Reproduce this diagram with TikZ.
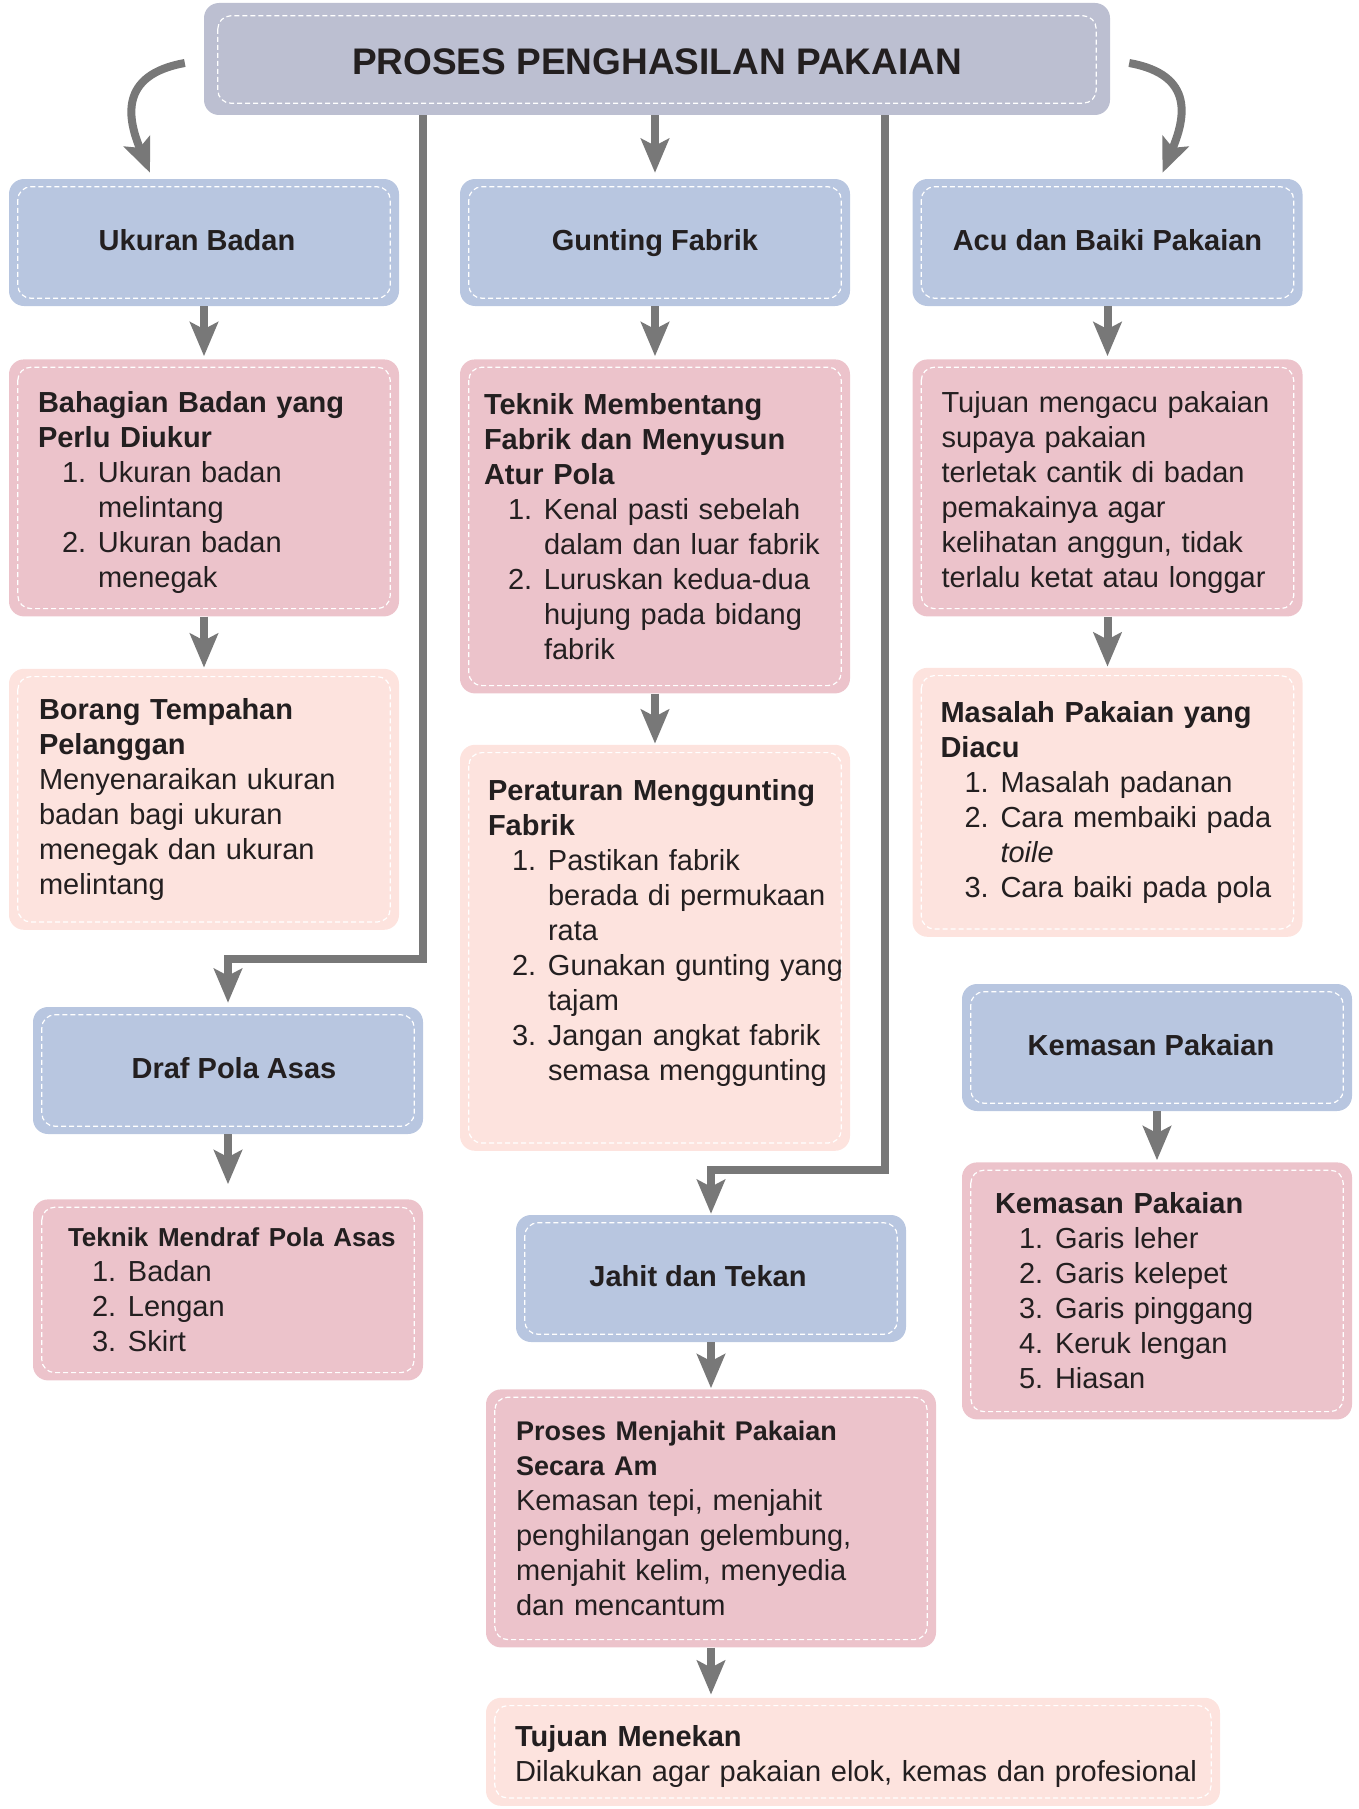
\documentclass[tikz,border=0pt]{standalone}
\usepackage{fontspec}
\setmainfont{Liberation Sans}
\usepackage{xcolor}
\usetikzlibrary{arrows.meta, positioning, calc}

\definecolor{titlefill}{RGB}{188,191,209}
\definecolor{bluefill}{RGB}{184,198,224}
\definecolor{pinkfill}{RGB}{236,195,203}
\definecolor{notefill}{RGB}{253,227,222}
\definecolor{arrowgray}{RGB}{120,120,120}
\definecolor{textcol}{RGB}{35,31,32}

\setlength{\parindent}{0pt}
\newcommand{\itm}[2]{\par\hangindent=60pt\hangafter=0\noindent\llap{\makebox[36pt][l]{#1}}#2}

\begin{document}
\begin{tikzpicture}[x=1pt, y=-1pt,
    node distance=53pt,
    box/.style={rectangle, rounded corners=15pt, minimum width=390pt, inner sep=0pt, text=textcol},
    head/.style={box, fill=bluefill, minimum height=127pt, text height=21pt, text depth=6pt, font=\fontsize{29}{35}\selectfont\bfseries},
    card/.style={box, fill=pinkfill, minimum height=257pt, inner xsep=4pt, text width=382pt, font=\fontsize{29}{35}\selectfont, execute at begin node={\raggedright\leftskip=#1\relax}},
    card/.default=25pt,
    note/.style={card=#1, fill=notefill},
    note/.default=25pt,
    flow/.style={draw=arrowgray, line width=8pt, -{Stealth[length=34pt, width=28pt, inset=7pt]}},
    dashline/.style={draw=white, line width=1.2pt, dash pattern=on 5pt off 3pt, rounded corners=13pt}
]

\useasboundingbox (0,0) rectangle (1359,1809);

\node[box, fill=titlefill, minimum width=906pt, minimum height=112pt, text height=32pt, text depth=0pt, font=\fontsize{37}{44}\selectfont\bfseries] (title) at (657,59) {PROSES PENGHASILAN PAKAIAN};

\node[head] (ukuran) at (204,242.5) {Ukuran Badan\hspace*{14pt}};
\node[head] (gunting) at (655,242.5) {Gunting Fabrik};
\node[head] (acu) at (1107.5,242.5) {Acu dan Baiki Pakaian};

\node[card, below=of ukuran] (bahagian) {{\bfseries\rule{0pt}{31pt}Bahagian Badan yang\newline Perlu Diukur}
  \itm{1.}{Ukuran badan\newline melintang}
  \itm{2.}{Ukuran badan\newline menegak}\par};
\node[card=20pt, below=of gunting, minimum height=334pt] (membentang) {{\bfseries Teknik Membentang\newline Fabrik dan Menyusun\newline Atur Pola}
  \itm{1.}{Kenal pasti sebelah\newline dalam dan luar fabrik}
  \itm{2.}{Luruskan kedua-dua\newline hujung pada bidang\newline fabrik}\par};
\node[card, below=of acu] (mengacu) {\rule{0pt}{31pt}Tujuan mengacu pakaian\newline supaya pakaian\newline terletak cantik di badan\newline pemakainya agar\newline kelihatan anggun, tidak\newline terlalu ketat atau longgar\par};

\node[note=26pt, below=52pt of bahagian, minimum height=261pt] (borang) {{\bfseries Borang Tempahan\newline Pelanggan}\par
  Menyenaraikan ukuran\newline badan bagi ukuran\newline menegak dan ukuran\newline melintang\par};
\node[note=24pt, below=51pt of membentang, minimum height=406pt] (peraturan) {{\bfseries Peraturan Menggunting\newline Fabrik}
  \itm{1.}{Pastikan fabrik\newline berada di permukaan\newline rata}
  \itm{2.}{Gunakan gunting yang\newline tajam}
  \itm{3.}{Jangan angkat fabrik\newline semasa menggunting\rule[-35pt]{0pt}{35pt}}\par};
\node[note=24pt, below=51pt of mengacu, minimum height=269pt] (masalah) {{\bfseries Masalah Pakaian yang\newline Diacu}
  \itm{1.}{Masalah padanan}
  \itm{2.}{Cara membaiki pada\newline \textit{toile}}
  \itm{3.}{Cara baiki pada pola}\par};

\node[head] (draf) at (228,1070.5) {\hspace*{12pt}Draf Pola Asas};
\node[card=31pt, below=65pt of draf, minimum height=181pt] (mendraf) {{\fontsize{26}{33}\selectfont\bfseries Teknik Mendraf Pola Asas}
  \itm{1.}{Badan}
  \itm{2.}{Lengan}
  \itm{3.}{Skirt}\par};

\node[head] (kemasan) at (1157,1047.5) {Kemasan Pakaian\hspace*{12pt}};
\node[card=29pt, below=51pt of kemasan] (garis) {{\bfseries Kemasan Pakaian}
  \itm{1.}{Garis leher}
  \itm{2.}{Garis kelepet}
  \itm{3.}{Garis pinggang}
  \itm{4.}{Keruk lengan}
  \itm{5.}{Hiasan}\par};

\node[head] (jahit) at (711,1278.5) {Jahit dan Tekan\hspace*{26pt}};
\node[card=26pt, below=47pt of jahit, minimum width=450pt, minimum height=258pt, text width=442pt] (menjahit) {{\fontsize{27}{35}\selectfont\bfseries Proses Menjahit Pakaian\newline Secara Am}\par
  Kemasan tepi, menjahit\newline penghilangan gelembung,\newline menjahit kelim, menyedia\newline dan mencantum\par};
\node[note, below=50pt of menjahit.south west, anchor=north west, minimum width=734pt, minimum height=108pt, text width=726pt] (menekan) {{\bfseries\rule{0pt}{31pt}Tujuan Menekan}\par
  Dilakukan agar pakaian elok, kemas dan profesional\par};

\draw[dashline] ($(title.north west)+(14,13)$) rectangle ($(title.south east)+(-14,-12)$);
\foreach \n in {ukuran,gunting,acu,bahagian,membentang,mengacu,borang,peraturan,masalah,draf,mendraf,kemasan,garis,jahit,menjahit,menekan}
  \draw[dashline] ($(\n.north west)+(9,8)$) rectangle ($(\n.south east)+(-9,-8)$);

\coordinate (turnA) at (228,959);
\coordinate (turnB) at (711,1170);

\draw[flow] ($(title.west)+(-19,4)$) .. controls +(-67,12) and +(-22,-53) .. ($(ukuran.north)+(-54,-6)$);
\draw[flow] ($(title.east)+(19,4)$) .. controls +(67,12) and +(22,-53) .. ($(acu.north)+(55,-6)$);
\draw[flow, shorten >=6pt] (title.south -| gunting) -- (gunting);
\draw[flow, shorten >=4pt] (title.south -| draf.east) |- (turnA) -- (draf);
\draw[flow, shorten >=1pt] ($(title.south east)+(-225,0)$) |- (turnB) -- (jahit);

\draw[flow, shorten >=3pt] (ukuran) -- (bahagian);
\draw[flow, shorten >=3pt] (gunting) -- (gunting |- membentang.north);
\draw[flow, shorten >=3pt] (acu) -- (acu |- mengacu.north);
\draw[flow, shorten >=1pt] (bahagian) -- (bahagian |- borang.north);
\draw[flow, shorten >=1pt] (membentang) -- (membentang |- peraturan.north);
\draw[flow, shorten >=1pt] (mengacu) -- (mengacu |- masalah.north);
\draw[flow, shorten >=15pt] (draf) -- (mendraf);
\draw[flow, shorten >=2pt] (kemasan) -- (garis);
\draw[flow, shorten >=1pt] (jahit) -- (jahit |- menjahit.north);
\draw[flow, shorten >=3pt] (menjahit) -- (menjahit |- menekan.north);

\end{tikzpicture}
\end{document}
